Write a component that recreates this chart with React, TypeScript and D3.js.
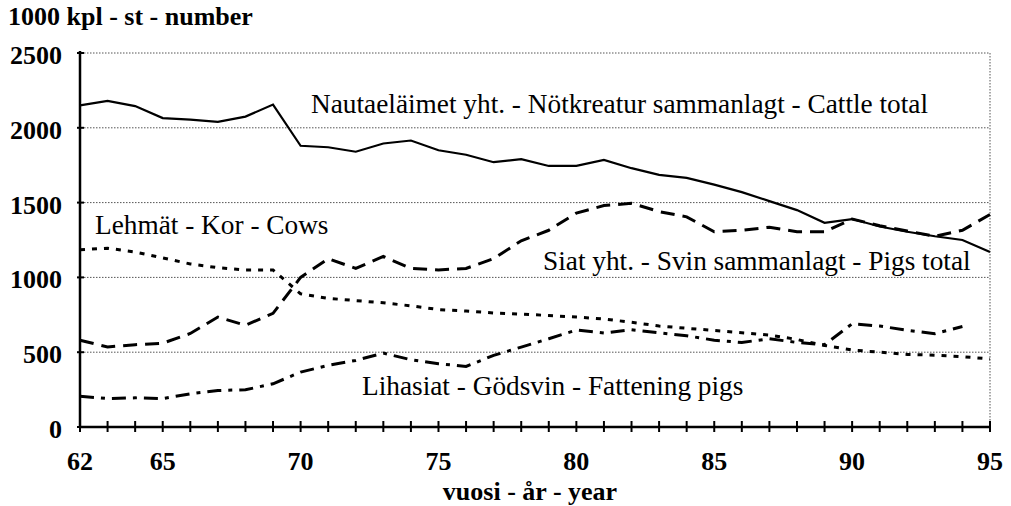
import React from 'react'
import * as d3 from 'd3'

const years = d3.range(62, 96)

const cattle = [2150, 2180, 2145, 2065, 2055, 2040, 2075, 2155, 1880, 1870, 1840, 1895, 1915, 1850, 1820, 1770, 1790, 1745, 1745, 1785, 1730, 1685, 1665, 1620, 1570, 1510, 1450, 1365, 1390, 1340, 1305, 1275, 1250, 1170]
const cows = [1185, 1195, 1170, 1130, 1090, 1065, 1050, 1050, 890, 860, 845, 830, 810, 785, 775, 762, 755, 745, 735, 722, 700, 675, 660, 645, 630, 615, 585, 545, 515, 500, 485, 480, 470, 455]
const pigs = [580, 535, 550, 560, 625, 735, 680, 760, 1000, 1125, 1060, 1140, 1060, 1050, 1060, 1125, 1245, 1315, 1430, 1480, 1495, 1440, 1405, 1305, 1315, 1335, 1305, 1305, 1390, 1345, 1310, 1275, 1315, 1420]
// fattening pigs stop at 1994
const fattening = [205, 190, 195, 190, 222, 244, 249, 289, 367, 412, 445, 494, 450, 423, 405, 479, 534, 590, 648, 628, 650, 630, 610, 580, 565, 590, 565, 550, 690, 675, 646, 624, 672]

const yTicks = [0, 500, 1000, 1500, 2000, 2500]
const xLabels = [62, 65, 70, 75, 80, 85, 90, 95]

const series = [
  { name: 'cattle', values: cattle, dash: undefined, width: 2.2 },
  { name: 'cows', values: cows, dash: '5,7', width: 3 },
  { name: 'pigs', values: pigs, dash: '14,8', width: 3 },
  { name: 'fattening', values: fattening, dash: '14,7,4,7', width: 3 }
]

const labels = [
  { text: 'Nautaeläimet yht. - Nötkreatur sammanlagt - Cattle total', x: 311, y: 113 },
  { text: 'Lehmät - Kor - Cows', x: 95, y: 234 },
  { text: 'Siat yht. - Svin sammanlagt - Pigs total', x: 543, y: 270 },
  { text: 'Lihasiat - Gödsvin - Fattening pigs', x: 362, y: 395 }
]

const FONT = 'Liberation Serif'

const x = d3.scaleLinear().domain([62, 95]).range([80, 990])
const y = d3.scaleLinear().domain([0, 2500]).range([427, 53])

const line = d3.line<number>()
  .x((d, i) => x(years[i]))
  .y(d => y(d))

const bold: React.CSSProperties = { fontFamily: FONT, fontWeight: 'bold', fontSize: 26 }
const plain: React.CSSProperties = { fontFamily: FONT, fontSize: 27.3 }

const App: React.FC = () => {
  return (
    <svg
      width={1011}
      height={506}
      style={{ position: 'absolute', left: 0, top: 0, background: '#fff' }}
    >
      {/* dotted grid + right border */}
      {yTicks.filter(t => t > 0).map(t => (
        <line key={'g' + t} x1={x(62) + 4} x2={x(95)} y1={y(t)} y2={y(t)}
          stroke="#555" strokeWidth={1} strokeDasharray="1.5,1.5" />
      ))}
      <line x1={x(95)} x2={x(95)} y1={y(2500)} y2={y(0)}
        stroke="#555" strokeWidth={1} strokeDasharray="1.5,1.5" />

      {/* axes */}
      <line x1={x(62)} x2={x(62)} y1={y(2500) - 2} y2={y(0)} stroke="#000" strokeWidth={2.5} />
      <line x1={x(62)} x2={x(95)} y1={y(0)} y2={y(0)} stroke="#000" strokeWidth={2.5} />
      {yTicks.map(t => (
        <line key={'yt' + t} x1={x(62) - 3} x2={x(62) + 4} y1={y(t)} y2={y(t)} stroke="#000" strokeWidth={2} />
      ))}
      {years.map(yr => (
        <line key={'xt' + yr} x1={x(yr)} x2={x(yr)} y1={y(0) - 6} y2={y(0) + 5} stroke="#000" strokeWidth={2} />
      ))}
      {yTicks.map(t => (
        <text key={'yl' + t} x={62} y={y(t) + 11} textAnchor="end" style={bold}>{t}</text>
      ))}
      {xLabels.map(yr => (
        <text key={'xl' + yr} x={x(yr)} y={470} textAnchor="middle" style={bold}>{yr}</text>
      ))}
      <text x={8} y={25} style={bold}>1000 kpl - st - number</text>
      <text x={530} y={500} textAnchor="middle" style={bold}>vuosi - år - year</text>

      {/* series */}
      {series.map(s => (
        <path key={s.name} d={line(s.values) || ''} fill="none" stroke="#000"
          strokeWidth={s.width} strokeDasharray={s.dash} />
      ))}

      {labels.map(l => (
        <text key={l.text} x={l.x} y={l.y} style={plain}>{l.text}</text>
      ))}
    </svg>
  )
}

export default App
